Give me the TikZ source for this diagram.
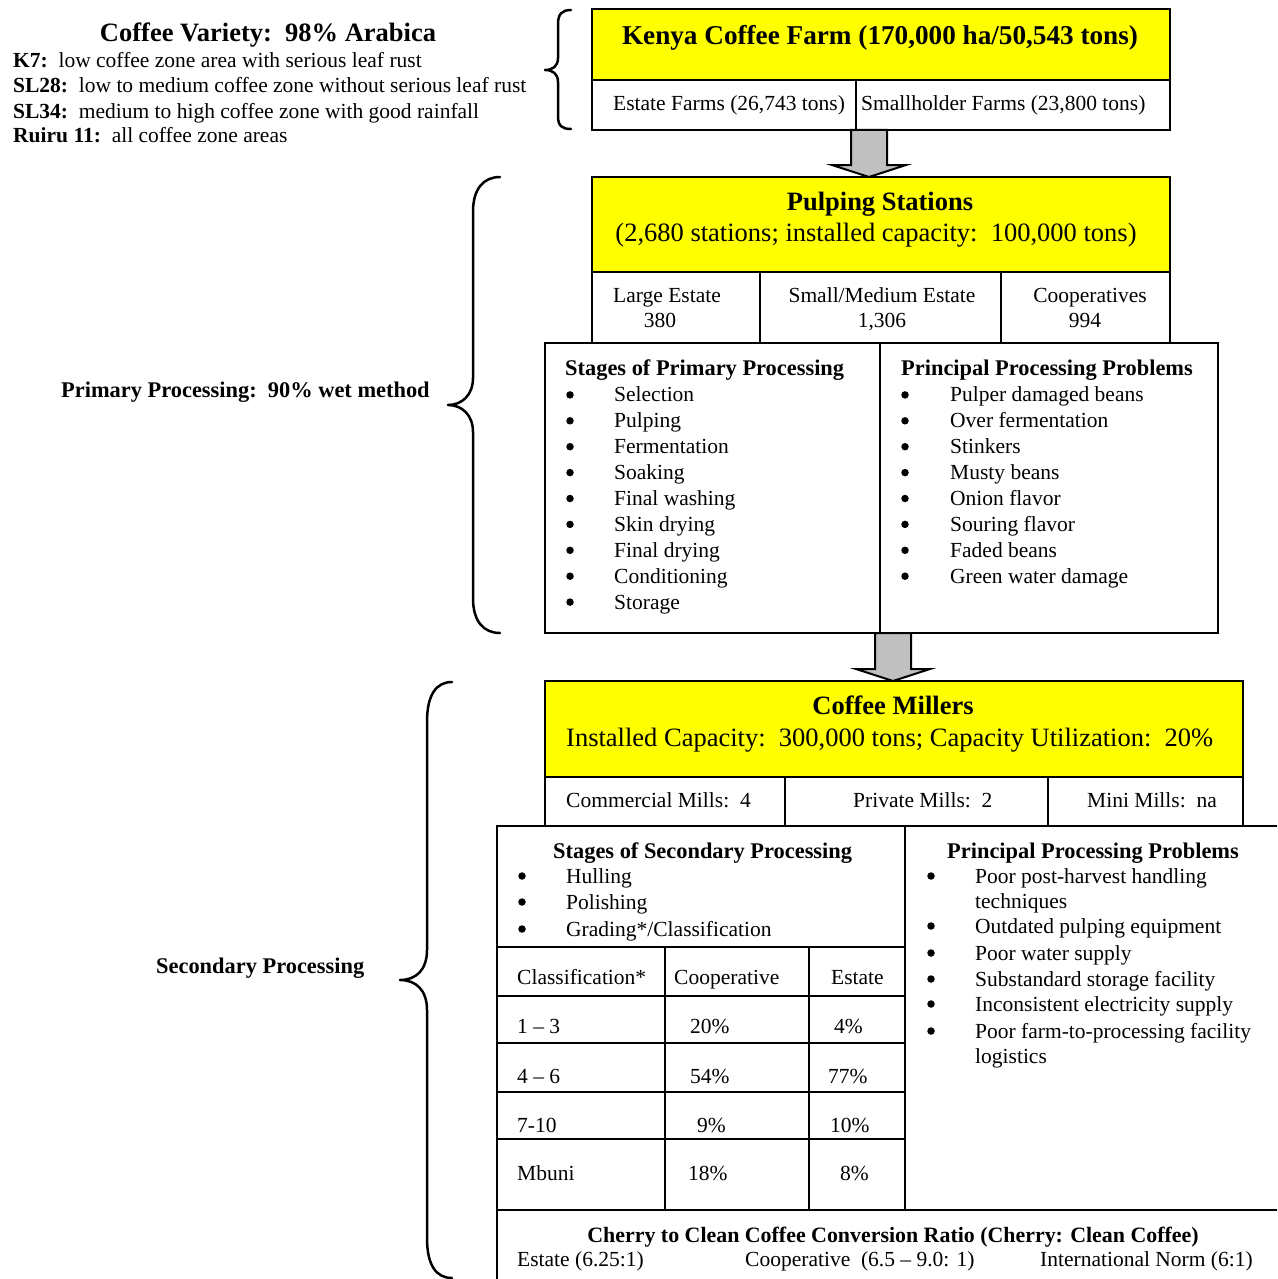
\documentclass[tikz,border=0pt]{standalone}
\usepackage{fontspec}
\setmainfont{Liberation Serif}
\usetikzlibrary{calc}

\definecolor{arrowgray}{HTML}{C0C0C0}
\definecolor{headyellow}{HTML}{FFFF00}

\tikzset{
  cellbox/.style={draw=black, line width=2pt, inner sep=0pt, anchor=north west, outer sep=0pt},
  yellowcell/.style={cellbox, fill=headyellow},
  txt/.style={font=\fontsize{21.5}{25.8}\selectfont, inner sep=0pt, anchor=base west},
  txtc/.style={txt, anchor=base},
  txtb/.style={txt, font=\fontsize{22.4}{26.8}\selectfont\bfseries},
  big/.style={font=\fontsize{26.5}{31}\selectfont, inner sep=0pt, anchor=base},
  bigb/.style={big, font=\fontsize{26.5}{31}\selectfont\bfseries},
  dot/.style={circle, fill=black, inner sep=0pt, minimum size=7.5pt},
  rule/.style={line width=2pt, line cap=rect},
  brace/.style={line width=2.5pt, line cap=round, line join=round},
  blk/.style={draw=black, fill=arrowgray, line width=2pt, line join=miter},
}

% block arrow pointing down from #1 to the tip #2
\newcommand\blockarrow[2]{%
  \draw[blk] let \p1=(#1), \p2=(#2) in
    (\x1-18pt,\y1) -- (\x1+18pt,\y1) -- (\x1+18pt,\y2+12pt) -- (\x1+37pt,\y2+12pt)
    -- (\x1,\y2) -- (\x1-37pt,\y2+12pt) -- (\x1-18pt,\y2+12pt) -- cycle;}

\begin{document}
\begin{tikzpicture}[x=1pt, y=-1pt]
\useasboundingbox (0,0) rectangle (1277,1279);
\clip (0,0) rectangle (1277,1279);

% ---------- coffee varieties ----------
\node[bigb] (variety) at (268,42) {Coffee Variety:\ \ 98\% Arabica};
\node[txt] (k7) at (13,68) {\textbf{K7:}\ \ low coffee zone area with serious leaf rust};
\node[txt] (sl28) at (13,92.5) {\textbf{SL28:}\ \ low to medium coffee zone without serious leaf rust};
\node[txt] (sl34) at (13,118) {\textbf{SL34:}\ \ medium to high coffee zone with good rainfall};
\node[txt] (ruiru) at (13,142.5) {\textbf{Ruiru 11:}\ \ all coffee zone areas};

% ---------- Kenya coffee farm ----------
\node[yellowcell, minimum width=578, minimum height=71] (farmtop) at (592,9) {};
\node[cellbox, minimum width=264, minimum height=50] (farmest) at (592,80) {};
\node[cellbox, minimum width=314, minimum height=50] (farmsmall) at (856,80) {};
\node[bigb, font=\fontsize{27.2}{31}\selectfont\bfseries] (farmtitle) at (880,45) {Kenya Coffee Farm (170,000 ha/50,543 tons)};
\node[txt] (esttxt) at (613,111) {Estate Farms (26,743 tons)};
\node[txt] (smalltxt) at (861,111) {Smallholder Farms (23,800 tons)};

\draw[brace] (571,10) .. controls (562,10) and (558,14) .. (558,24)
  -- (558,58) .. controls (558,66) and (553,70) .. (545,70)
  .. controls (553,70) and (558,74) .. (558,82)
  -- (558,116) .. controls (558,126) and (562,129) .. (571,129);

% ---------- pulping stations ----------
\node[yellowcell, minimum width=578, minimum height=95] (pulptop) at (592,177) {};
\node[cellbox, minimum width=168, minimum height=71] (pulpL) at (592,272) {};
\node[cellbox, minimum width=241, minimum height=71] (pulpM) at (760,272) {};
\node[cellbox, minimum width=169, minimum height=71] (pulpC) at (1001,272) {};
\node[bigb] (pulptitle) at (880,210) {Pulping Stations};
\node[big] (pulpcap) at (876,241) {(2,680 stations; installed capacity:\ \ 100,000 tons)};
\node[txtc] (largeA) at (667,302) {Large Estate};
\node[txtc] (largeB) at (660,327) {380};
\node[txtc] (smedA) at (882,302) {Small/Medium Estate};
\node[txtc] (smedB) at (882,327) {1,306};
\node[txtc] (coopA) at (1090,302) {Cooperatives};
\node[txtc] (coopB) at (1085,327) {994};

\coordinate (arrowAtop) at ([xshift=13pt]farmsmall.south west);
\coordinate (arrowAtip) at (arrowAtop |- pulptop.north);
\blockarrow{arrowAtop}{arrowAtip}

% ---------- primary processing ----------
\node[cellbox, minimum width=335, minimum height=290] (primL) at (545,343) {};
\node[cellbox, minimum width=338, minimum height=290] (primR) at (880,343) {};
\node[txtb] (primhead) at (565,375) {Stages of Primary Processing};
\foreach \t [count=\i] in {Selection, Pulping, Fermentation, Soaking, Final washing,
    Skin drying, Final drying, Conditioning, Storage} {
  \node[dot] (pb\i) at (570,{376+25.9*\i-7}) {};
  \node[txt] (ps\i) at (614,{376+25.9*\i}) {\t};
}
\node[txtb] (probhead) at (901,375) {Principal Processing Problems};
\foreach \t [count=\i] in {Pulper damaged beans, Over fermentation, Stinkers, Musty beans,
    Onion flavor, Souring flavor, Faded beans, Green water damage} {
  \node[dot] (qb\i) at (905,{376+25.9*\i-7}) {};
  \node[txt] (qs\i) at (950,{376+25.9*\i}) {\t};
}

\draw[brace] (500,177) .. controls (484,177) and (473,188) .. (473,212)
  -- (473,378) .. controls (473,395) and (462,405) .. (448,405)
  .. controls (462,405) and (473,415) .. (473,432)
  -- (473,598) .. controls (473,622) and (484,633) .. (500,633);
\node[txtb] (primlabel) at (61,397) {Primary Processing:\ \ 90\% wet method};

% ---------- coffee millers ----------
\node[yellowcell, minimum width=698, minimum height=96] (milltop) at (545,681) {};
\node[cellbox, minimum width=240, minimum height=49] (millA) at (545,777) {};
\node[cellbox, minimum width=263, minimum height=49] (millB) at (785,777) {};
\node[cellbox, minimum width=195, minimum height=49] (millC) at (1048,777) {};
\node[bigb] (milltitle) at (893,714) {Coffee Millers};
\node[big, anchor=base west] (millcap) at (566,746) {Installed Capacity:\ \ 300,000 tons; Capacity Utilization:\ \ 20\%};
\node[txt] (commills) at (566,807) {Commercial Mills:\ \ 4};
\node[txt] (privmills) at (853,807) {Private Mills:\ \ 2};
\node[txt] (minimills) at (1087,807) {Mini Mills:\ \ na};

\coordinate (arrowBtop) at ([xshift=13pt]primR.south west);
\coordinate (arrowBtip) at (arrowBtop |- milltop.north);
\blockarrow{arrowBtop}{arrowBtip}

% ---------- secondary processing ----------
\node[cellbox, minimum width=786, minimum height=460] (secbox) at (497,826) {};
\draw[rule] (905,826) -- (905,1210);
\draw[rule] (497,947) -- (905,947);
\draw[rule] (497,1210) -- (1280,1210);
\draw[rule] (665,947) -- (665,1210);
\draw[rule] (809,947) -- (809,1210);
\foreach \yy in {996,1043,1092,1139} \draw[rule] (497,\yy) -- (905,\yy);

\node[txtb] (sechead) at (553,858) {Stages of Secondary Processing};
\foreach \yy/\t [count=\i] in {883/Hulling, 909/Polishing, 936/{Grading*/Classification}} {
  \node[dot] (sb\i) at (522,\yy-7) {};
  \node[txt] (ss\i) at (566,\yy) {\t};
}

\node[txt] (thA) at (517,984) {Classification*};
\node[txt] (thB) at (674,984) {Cooperative};
\node[txt] (thC) at (831,984) {Estate};
\node[txt] (r1a) at (517,1033) {1 – 3};
\node[txt] (r1b) at (690,1033) {20\%};
\node[txt] (r1c) at (834,1033) {4\%};
\node[txt] (r2a) at (517,1083) {4 – 6};
\node[txt] (r2b) at (690,1083) {54\%};
\node[txt] (r2c) at (828,1083) {77\%};
\node[txt] (r3a) at (517,1132) {7-10};
\node[txt] (r3b) at (697,1132) {9\%};
\node[txt] (r3c) at (830,1132) {10\%};
\node[txt] (r4a) at (517,1180) {Mbuni};
\node[txt] (r4b) at (688,1180) {18\%};
\node[txt] (r4c) at (840,1180) {8\%};

\node[txtb] (secprobhead) at (947,858) {Principal Processing Problems};
\foreach \yy/\t [count=\i] in {883/Poor post-harvest handling, 908/techniques,
    933/Outdated pulping equipment, 960/Poor water supply, 986/Substandard storage facility,
    1011/Inconsistent electricity supply, 1038/Poor farm-to-processing facility, 1063/logistics} {
  \node[txt] (ts\i) at (975,\yy) {\t};
}
\foreach \yy [count=\i] in {883,933,960,986,1011,1038} {
  \node[dot] (tb\i) at (931,\yy-7) {};
}

\node[txtb, anchor=base, font=\fontsize{21.9}{26}\selectfont\bfseries] (ratiohead) at (893,1242) {Cherry to Clean Coffee Conversion Ratio (Cherry: Clean Coffee)};
\node[txt] (ratioA) at (517,1266) {Estate (6.25:1)};
\node[txt] (ratioB) at (745,1266) {Cooperative\ \ (6.5 – 9.0: 1)};
\node[txt] (ratioC) at (1040,1266) {International Norm (6:1)};

\draw[brace] (452,682) .. controls (436,682) and (427,695) .. (427,722)
  -- (427,950) .. controls (427,970) and (416,980) .. (400,980)
  .. controls (416,980) and (427,990) .. (427,1010)
  -- (427,1238) .. controls (427,1265) and (436,1278) .. (452,1278);
\node[txtb] (seclabel) at (156,973) {Secondary Processing};

\end{tikzpicture}
\end{document}
